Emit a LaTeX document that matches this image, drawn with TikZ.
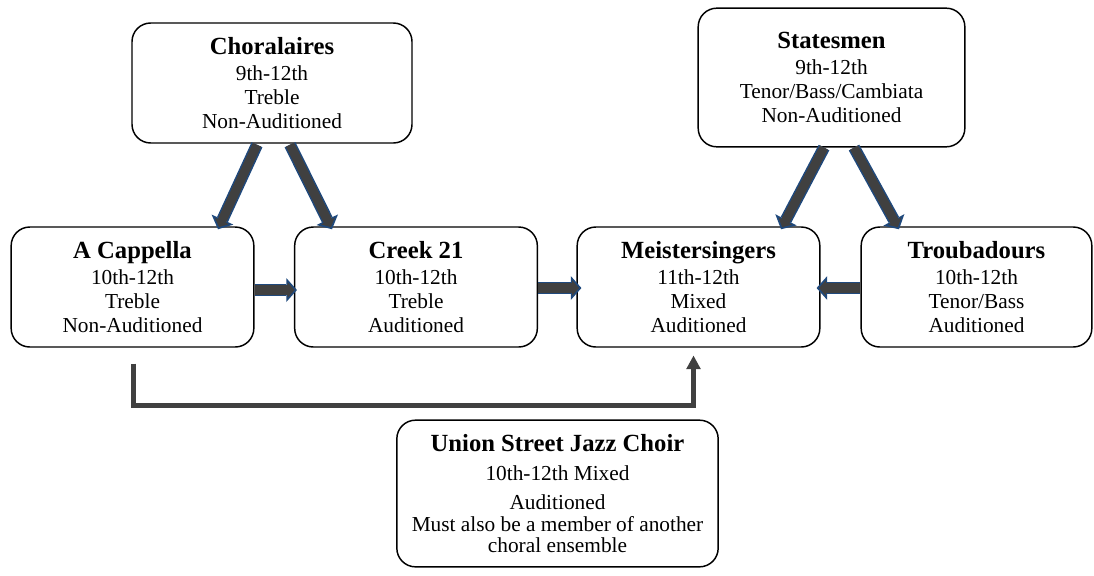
\documentclass[tikz,border=0pt]{standalone}
\usepackage{fontspec}
\setmainfont{Liberation Serif}
\usetikzlibrary{arrows.meta,calc}

\definecolor{fatgray}{RGB}{64,64,64}
\definecolor{fatblue}{RGB}{31,73,125}
\newcommand{\grouptitle}{\fontsize{18.5}{20}\selectfont\bfseries}

\tikzset{
  choir/.style={draw, line width=1.1pt, rounded corners=14pt, align=center, inner sep=0pt,
    font=\fontsize{16}{18}\selectfont},
  fat/.style={draw=fatgray, line width=6.8pt, shorten >=1.8pt,
    -{Triangle[length=5.1pt,width=11.5pt,line width=0pt]},
    preaction={draw=fatblue, line width=9pt, shorten >=0pt,
      -{Triangle[length=8pt,width=18pt,line width=0pt]}}},
  link/.style={draw=fatgray, line width=3.8pt, line join=miter,
    -{Triangle[length=10pt,width=11pt,line width=0pt]}}
}

\begin{document}
\begin{tikzpicture}[x=0.75pt,y=0.75pt,yscale=-1,xscale=1]
\useasboundingbox (0,0) rectangle (1094,575);

% top row
\node[choir, minimum width=210pt, minimum height=90pt] (cho) at (272,83)
  {{\grouptitle Choralaires}\\[2pt]9th-12th\\Treble\\Non-Auditioned};
\node[choir, minimum width=200pt, minimum height=104pt] (sta) at (831.5,77.5)
  {{\grouptitle Statesmen}\\[2pt]9th-12th\\Tenor/Bass/Cambiata\\Non-Auditioned};

% middle row
\node[choir, minimum width=182pt, minimum height=90pt] (acap) at (132.5,287)
  {{\grouptitle A Cappella}\\[2pt]10th-12th\\Treble\\Non-Auditioned};
\node[choir, minimum width=182pt, minimum height=90pt] (creek) at (416,287)
  {{\grouptitle Creek 21}\\[2pt]10th-12th\\Treble\\Auditioned};
\node[choir, minimum width=182pt, minimum height=90pt] (meister) at (698.5,287)
  {{\grouptitle Meistersingers}\\[2pt]11th-12th\\Mixed\\Auditioned};
\node[choir, minimum width=173pt, minimum height=90pt] (troub) at (976.5,287)
  {{\grouptitle Troubadours}\\[2pt]10th-12th\\Tenor/Bass\\Auditioned};

% bottom
\node[choir, minimum width=241pt, minimum height=110pt, font=\fontsize{16}{16}\selectfont] (jazz) at (557.5,493.5)
  {{\grouptitle Union Street Jazz Choir}\\[6pt]10th-12th Mixed\\[6pt]Auditioned\\Must also be a member of another\\choral ensemble};

% feeder arrows
\draw[fat] ($(cho.south)+(-15,1)$) -- ($(acap.north)+(85.5,3)$);
\draw[fat] ($(cho.south)+(18,1)$) -- ($(creek.north)+(-84,3)$);
\draw[fat] ($(sta.south)+(-7.5,0)$) -- ($(meister.north)+(82.5,3)$);
\draw[fat] ($(sta.south)+(22.5,0)$) -- ($(troub.north)+(-77.5,3)$);
\draw[fat] ($(acap.east)+(0,3)$) -- ($(creek.west)+(3,3)$);
\draw[fat] ($(creek.east)+(0,1)$) -- ($(meister.west)+(5,1)$);
\draw[fat] ($(troub.west)+(0,1)$) -- ($(meister.east)+(-4,1)$);

% bracket
\draw[link] ($(acap.south)+(1,16)$) |- ($(meister.south)+(-5,58)$) -- ($(meister.south)+(-5,8)$);

\end{tikzpicture}
\end{document}
